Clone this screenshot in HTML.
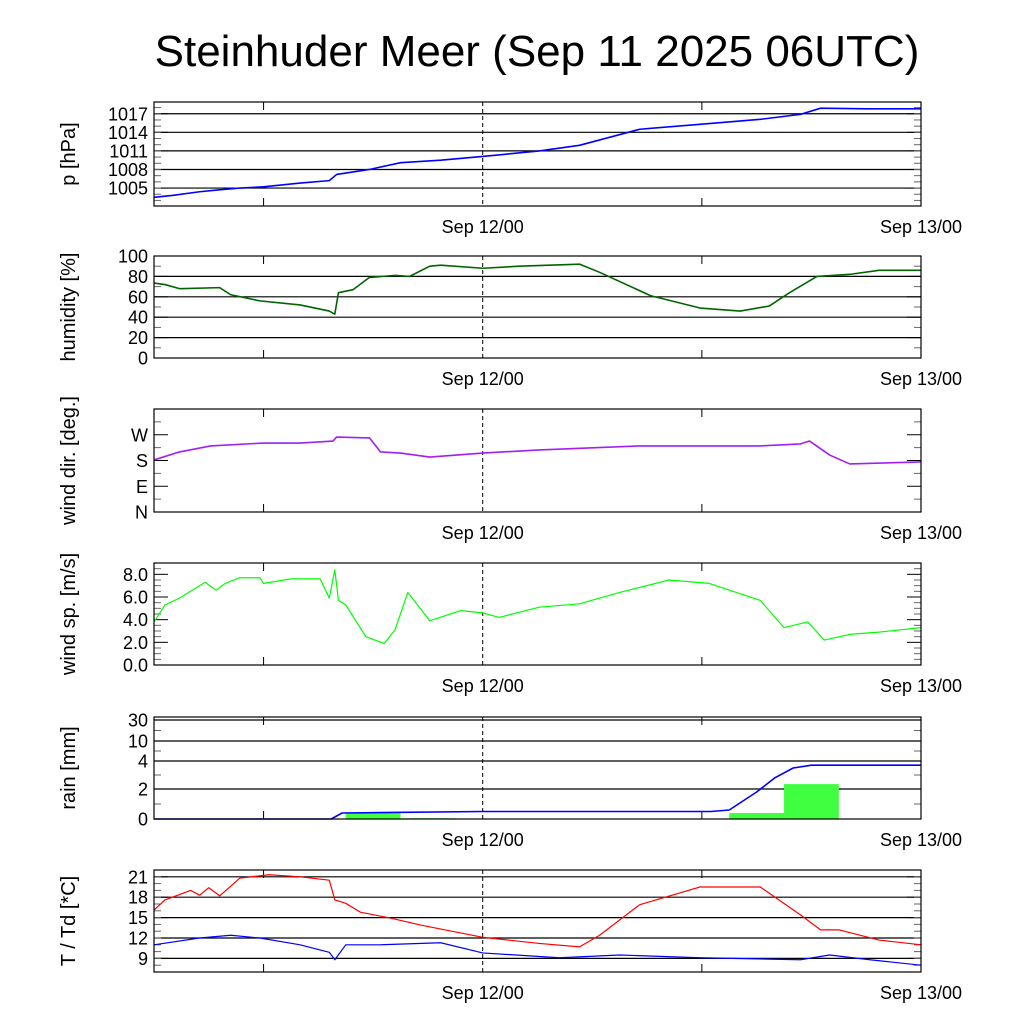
<!DOCTYPE html>
<html><head><meta charset="utf-8"><style>
body{margin:0;background:#fff;}
svg{display:block;font-family:"Liberation Sans",sans-serif;}
</style></head><body>
<svg id="chart" width="1024" height="1024" viewBox="0 0 1024 1024">
<rect width="1024" height="1024" fill="#fff"/>
<text x="537" y="66" text-anchor="middle" font-size="44">Steinhuder Meer (Sep 11 2025 06UTC)</text>
</svg>
<script>
// hours since Sep 11 06UTC
const presH=[0,1,2.5,3.5,4.7,6,8,9.6,10,11.8,13.5,15.7,18,21.1,23.3,26.6,29.9,33.2,35.4,36.5,39,42];
const presV=[1003.5,1003.8,1004.4,1004.7,1005,1005.2,1005.8,1006.2,1007.2,1008,1009.1,1009.5,1010.1,1011,1011.9,1014.5,1015.3,1016.1,1016.9,1017.9,1017.8,1017.8];
const humH=[0,0.6,1.4,3.6,4.2,5.8,8,9.6,9.9,10.1,10.9,11.8,13.2,14,15.1,15.7,18,20,23.3,24.4,27.2,29.9,32.1,33.7,34.8,36.3,38.1,39.7,42];
const humV=[73.5,72,68,69,62,56,52,46,43,64,67,79,81,80,90,91,88,90,92,84,61,49,46,51,64,80,82,86,86];
const dirH=[0,1.4,3.1,6,8,9.8,10,11.8,12.4,13.5,15.1,18,21.1,26.6,29.9,33.2,35.4,35.9,37,38.1,42];
const dirV=[182,210,231,241,241,248,262,259,210,206,192,206,217,231,231,231,238,248,199,168,175];
const wsH=[0,0.6,1.4,2.8,3.4,3.9,4.7,5.8,6,7.5,9.1,9.6,9.9,10.1,10.5,11.6,12.6,13.2,13.9,15.1,16.8,18,18.9,21.1,23.3,25.5,28.2,30.4,33.2,34.5,35.8,36.7,38.1,39.7,42];
const wsV=[3.8,5.3,5.9,7.3,6.6,7.2,7.7,7.7,7.2,7.6,7.6,5.9,8.4,5.7,5.3,2.5,1.9,3.1,6.4,3.9,4.8,4.6,4.2,5.1,5.4,6.4,7.5,7.2,5.7,3.3,3.8,2.2,2.7,2.9,3.3];
const rainAccH=[0,9.7,10.3,18,30.5,31.5,33,34,35,36,42];
const rainAccV=[0,0,0.4,0.5,0.5,0.6,1.8,2.8,3.5,3.7,3.7];
const rainBarStart=[10.5,13.5,31.5,34.5];
const rainBarV=[0.4,0.05,0.4,2.35];
const tH=[0,0.6,2,2.5,3,3.6,4.7,6.3,8,9.6,9.9,10.5,11.3,13,14.6,18,21.1,23.3,24.4,26.6,29.9,33.2,35.4,36.5,37.5,39.7,42];
const tV=[16.1,17.6,19,18.3,19.4,18.2,20.8,21.3,21,20.5,17.6,17.1,15.8,14.9,13.9,12.1,11.2,10.7,12.4,16.9,19.5,19.5,15.4,13.2,13.2,11.7,11];
const tdH=[0,2.5,4.2,5.8,8,9.6,9.9,10.5,12.4,15.7,18,22.2,25.5,29.9,35.4,37,39.2,42];
const tdV=[11,12,12.4,12,11,9.9,8.8,11,11,11.3,9.8,9.1,9.5,9.1,8.8,9.5,8.8,8];
const xTickLabels=["Sep 12/00","Sep 13/00"];
const xTickHours=[18,42];

const svg=document.getElementById('chart');
const NS='http://www.w3.org/2000/svg';
const X0=154,X1=921;
const xs=h=>X0+(h/42)*(X1-X0);
function el(tag,attrs,parent){const e=document.createElementNS(NS,tag);for(const k in attrs)e.setAttribute(k,attrs[k]);(parent||svg).appendChild(e);return e;}

function panel(name,top,bot,label,yfn,majors,majorLabels,minors,grid){
  const g=el('g',{});
  
  
  if(grid) majors.forEach(v=>{const y=yfn(v);if(y>top+1&&y<bot-1){const l=el('line',{x1:X0,x2:X1,y1:y,y2:y,stroke:'#000','stroke-width':1.2},g);}});
  const d=el('line',{x1:xs(18),x2:xs(18),y1:top,y2:bot,stroke:'#000','stroke-width':1,'stroke-dasharray':'4,3'},g);
  
  majors.forEach((v,i)=>{const y=yfn(v);el('line',{x1:X0,x2:X0+14,y1:y,y2:y,stroke:'#000'},g);el('line',{x1:X1-14,x2:X1,y1:y,y2:y,stroke:'#000'},g);
    const t=el('text',{x:X0-6,y:y+6.5,'text-anchor':'end','font-size':18},g);t.textContent=majorLabels[i];
    });
  minors.forEach(v=>{const y=yfn(v);el('line',{x1:X0,x2:X0+7,y1:y,y2:y,stroke:'#666'},g);el('line',{x1:X1-7,x2:X1,y1:y,y2:y,stroke:'#666'},g);});
  [6,30].forEach(h=>{el('line',{x1:xs(h),x2:xs(h),y1:bot,y2:bot-8,stroke:'#000'},g);el('line',{x1:xs(h),x2:xs(h),y1:top,y2:top+8,stroke:'#000'},g);});
  xTickHours.forEach((h,i)=>{const t=el('text',{x:xs(h),y:bot+27,'text-anchor':'middle','font-size':18},g);t.textContent=xTickLabels[i];
    });
  const yl=el('text',{transform:`translate(75,${(top+bot)/2}) rotate(-90)`,'text-anchor':'middle','font-size':20},g);yl.textContent=label;
  
  return g;
}
function frame(g,name,top,bot){const r=el('rect',{x:X0,y:top,width:X1-X0,height:bot-top,fill:'none',stroke:'#000','stroke-width':1.2},g);}
function line(g,name,H,V,yfn,color,w){const p=el('polyline',{points:H.map((h,i)=>xs(h)+','+yfn(V[i])).join(' '),fill:'none',stroke:color,'stroke-width':w,'stroke-linejoin':'round'},g);}
function lin(v0,v1,y0,y1){return v=>y0+(v-v0)/(v1-v0)*(y1-y0);}
function range(a,b,s){const r=[];for(let v=a;v<=b+1e-9;v+=s)r.push(v);return r;}

let y=lin(1002.1,1018.9,206,102);
let g=panel('pressure',102,206,'p [hPa]',y,[1005,1008,1011,1014,1017],['1005','1008','1011','1014','1017'],range(1003,1018,1),true);
line(g,'pressure-line',presH,presV,y,'#0000ff',1.6);frame(g,'pressure',102,206);
y=lin(0,100,358,256);
g=panel('humidity',256,358,'humidity [%]',y,[0,20,40,60,80,100],['0','20','40','60','80','100'],range(10,90,20),true);
line(g,'humidity-line',humH,humV,y,'#006400',1.6);frame(g,'humidity',256,358);
y=lin(0,360,512,409);
g=panel('wind-dir',409,512,'wind dir. [deg.]',y,[0,90,180,270],['N','E','S','W'],range(45,315,90),false);
line(g,'wind-dir-line',dirH,dirV,y,'#a020f0',1.6);frame(g,'wind-dir',409,512);
y=lin(0,9,665,563);
g=panel('wind-speed',563,665,'wind sp. [m/s]',y,[0,2,4,6,8],['0.0','2.0','4.0','6.0','8.0'],range(0.5,8.5,0.5).filter(v=>v%2),false);
line(g,'wind-speed-line',wsH,wsV,y,'#00ff00',1.2);frame(g,'wind-speed',563,665);
const rk=[0,2,4,10,30,40],ry=[819,789,761,741,720,716];
y=v=>{for(let i=0;i<rk.length-1;i++){if(v<=rk[i+1])return ry[i]+(v-rk[i])/(rk[i+1]-rk[i])*(ry[i+1]-ry[i]);}return 716;};
g=panel('rain',717,819,'rain [mm]',y,[0,2,4,10,30],['0','2','4','10','30'],[1,3,7,20],true);
rainBarStart.forEach((h,i)=>{const b=el('rect',{x:xs(h),y:y(rainBarV[i]),width:xs(h+3)-xs(h),height:819-y(rainBarV[i]),fill:'#40ff40'},g);
  });
line(g,'rain-accumulated-line',rainAccH,rainAccV,y,'#0000ff',1.6);frame(g,'rain',717,819);
y=lin(7,22,972,870);
g=panel('temperature',870,972,'T / Td [*C]',y,[9,12,15,18,21],['9','12','15','18','21'],range(8,22,1),true);
line(g,'temperature-line',tH,tV,y,'#ff0000',1.2);line(g,'dewpoint-line',tdH,tdV,y,'#0000ff',1.2);frame(g,'temperature',870,972);
</script>
</body></html>
